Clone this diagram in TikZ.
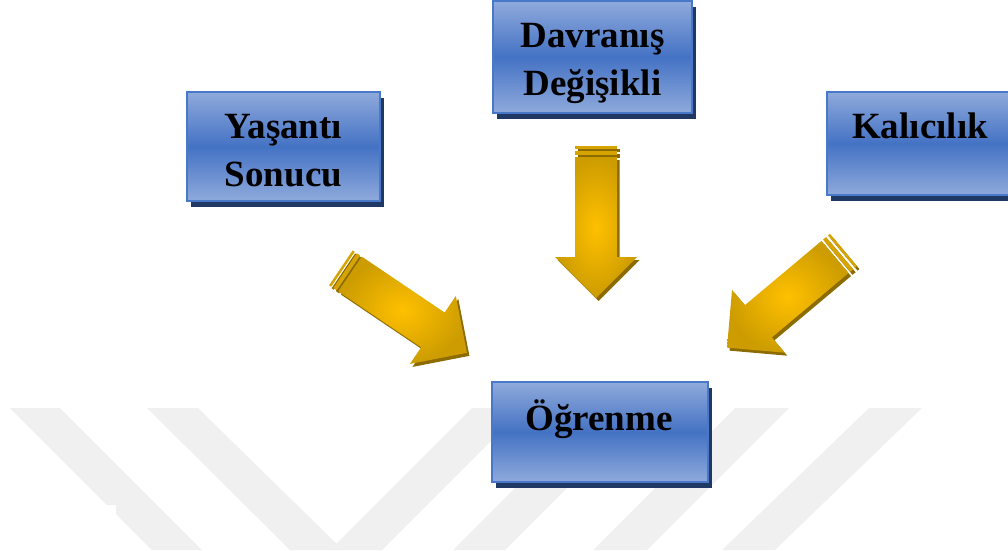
\documentclass[tikz,border=0pt]{standalone}
\usepackage{fontspec}
\setmainfont{Liberation Serif}
\usetikzlibrary{shadows}
\definecolor{lb}{HTML}{8FAADC}
\definecolor{db}{HTML}{4472C4}
\definecolor{bord}{HTML}{4A78C8}
\definecolor{shd}{HTML}{1F3864}
\definecolor{wm}{HTML}{F0F0F0}
\definecolor{goldA}{HTML}{FFC000}
\definecolor{goldB}{HTML}{CC9C00}
\definecolor{goldD}{HTML}{8C6C00}
\newcommand{\goldarrow}[2]{%
  \begin{scope}[shift={(#1)},shift={(2.5,3)},rotate=-#2]
    \fill[goldD] (0,-21) -- (100,-21) -- (100,-41) -- (141,0) -- (100,41) -- (100,21) -- (0,21) -- cycle;
    \fill[goldD] (-6,-21) rectangle (-2,21);
    \fill[goldD] (-11,-21) rectangle (-8.5,21);
  \end{scope}
  \begin{scope}[shift={(#1)},rotate=-#2]
    \shade[inner color=goldA,outer color=goldB] (0,-21) -- (100,-21) -- (100,-41) -- (141,0) -- (100,41) -- (100,21) -- (0,21) -- cycle;
    \fill[goldB!80!goldA] (-6,-21) rectangle (-2,21);
    \fill[goldB!80!goldA] (-11,-21) rectangle (-8.5,21);
  \end{scope}}
\tikzset{
  bluebox/.style={draw=bord, line width=1.5pt, top color=lb, bottom color=lb, middle color=db,
    inner sep=0pt, drop shadow={shadow xshift=3.5pt, shadow yshift=-5.5pt, fill=shd, opacity=1}},
  lbl/.style={font=\fontsize{37}{44}\selectfont\bfseries, anchor=base, inner sep=0pt, text=black}
}
\begin{document}
\begin{tikzpicture}[x=1pt,y=-1pt]
\useasboundingbox (0,0) rectangle (1008,550);
\clip (0,0) rectangle (1008,550);
% watermark
\fill[wm] (10,408) -- (60,408) -- (202,550) -- (152,550) -- (116,514) -- (116,505) -- (107,505) -- cycle;
\fill[wm] (147,408) -- (198,408) -- (343,550) -- (290,550) -- cycle;
\fill[wm] (472,408) -- (524,408) -- (382,550) -- (330,550) -- cycle;
\fill[wm] (595,408) -- (647,408) -- (505,550) -- (453,550) -- cycle;
\fill[wm] (735,408) -- (789,408) -- (647,550) -- (593,550) -- cycle;
\fill[wm] (869,408) -- (922,408) -- (775,550) -- (722,550) -- cycle;
% arrows
\coordinate (t1) at (350,274);
\coordinate (t2) at (596,157);
\coordinate (t3) at (835,257);
\goldarrow{t1}{34}
\goldarrow{t2}{90}
\goldarrow{t3}{140}
% boxes
\node[bluebox, minimum width=193pt, minimum height=109pt] (yas) at (283.5,146.5) {};
\node[lbl] (yas1) at (283.5,138) {Yaşantı};
\node[lbl] (yas2) at (283.5,186) {Sonucu};
\node[bluebox, minimum width=199pt, minimum height=112pt] (dav) at (592.5,57) {};
\node[lbl] (dav1) at (592.5,47) {Davranış};
\node[lbl] (dav2) at (592.5,95) {Değişikli};
\node[bluebox, minimum width=186pt, minimum height=103pt] (kal) at (920,143.5) {};
\node[lbl] (kal1) at (920,138) {Kalıcılık};
\node[bluebox, minimum width=216pt, minimum height=100pt] (ogr) at (600,432) {};
\node[lbl] (ogr1) at (599,430) {Öğrenme};
\end{tikzpicture}
\end{document}
